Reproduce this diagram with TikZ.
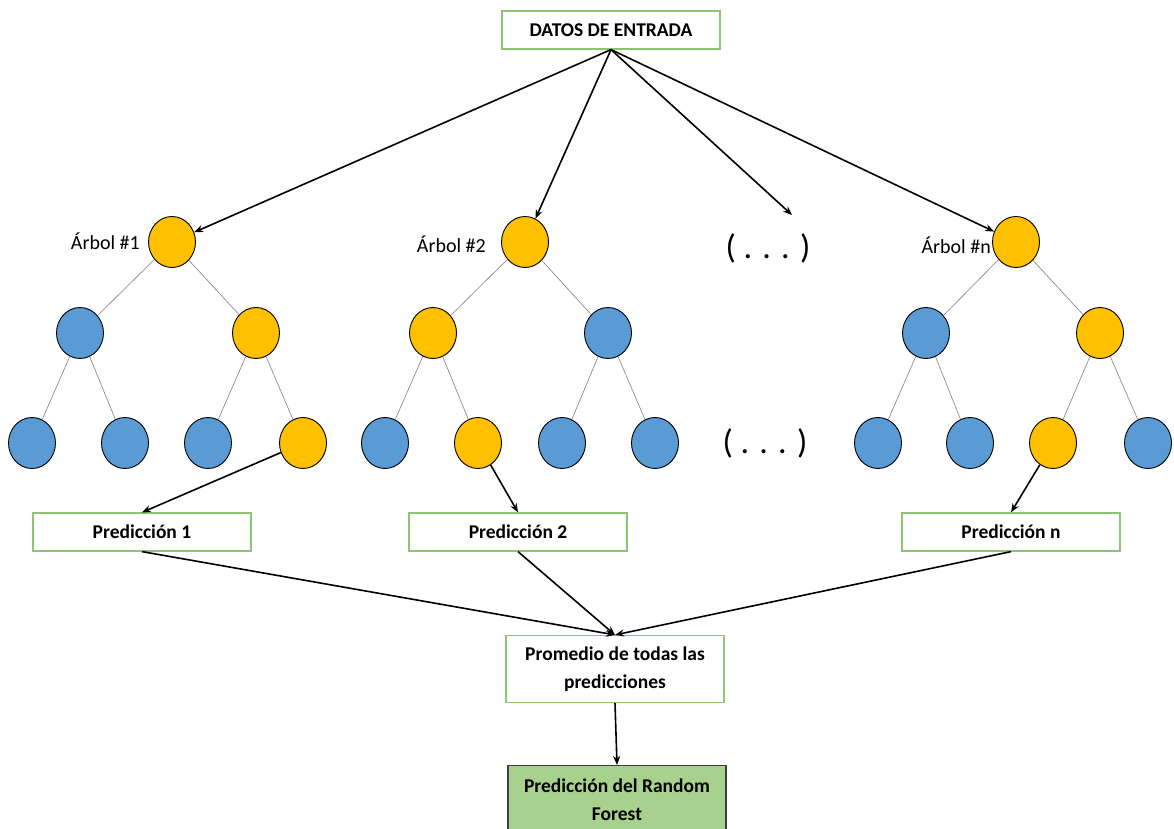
\documentclass[tikz,border=0pt]{standalone}
\usepackage{fontspec}
\setmainfont{Carlito}
\usetikzlibrary{shapes.geometric,arrows.meta}
\definecolor{nyellow}{HTML}{FFC000}
\definecolor{nblue}{HTML}{5B9BD5}
\definecolor{boxgreen}{HTML}{8DC572}
\definecolor{rfgreen}{HTML}{A9D18E}
\tikzset{
  yel/.style={ellipse,draw=black,line width=0.9pt,fill=nyellow,minimum width=47pt,minimum height=51pt,inner sep=0pt},
  blu/.style={ellipse,draw=black,line width=0.9pt,fill=nblue,minimum width=47pt,minimum height=51pt,inner sep=0pt},
  gbox/.style={draw=boxgreen,line width=1.2pt,fill=white,minimum width=218pt,minimum height=38pt,inner sep=0pt,font=\bfseries\fontsize{19.5}{28}\selectfont,align=center},
  tedge/.style={draw=gray,line width=0.6pt},
  arr/.style={draw=black,line width=1.6pt,-{Stealth[length=9pt,width=7pt]}},
  lbl/.style={font=\fontsize{20}{24}\selectfont,anchor=east,inner sep=0pt},
  dots/.style={font=\fontsize{34}{40}\selectfont,inner sep=0pt}
}
\begin{document}
\begin{tikzpicture}[x=1pt,y=-1pt]
\useasboundingbox[fill=white] (0,0) rectangle (1174,829);
% input
\node[gbox] (in) at (611,30) {DATOS DE ENTRADA};
% tree 1
\node[yel] (r1) at (172,242) {};
\node[blu] (a1) at (80,333) {};
\node[yel] (b1) at (256,333) {};
\node[blu] (c1) at (32,443) {};
\node[blu] (d1) at (125,443) {};
\node[blu] (e1) at (208,443) {};
\node[yel] (f1) at (303,443) {};
% tree 2
\node[yel] (r2) at (525,242) {};
\node[yel] (a2) at (433,333) {};
\node[blu] (b2) at (608,333) {};
\node[blu] (c2) at (385,443) {};
\node[yel] (d2) at (478,443) {};
\node[blu] (e2) at (562,443) {};
\node[blu] (f2) at (655,443) {};
% tree n
\node[yel] (r3) at (1016,242) {};
\node[blu] (a3) at (926,333) {};
\node[yel] (b3) at (1100,333) {};
\node[blu] (c3) at (878,443) {};
\node[blu] (d3) at (970,443) {};
\node[yel] (e3) at (1053,443) {};
\node[blu] (f3) at (1148,443) {};
% tree edges
\foreach \t in {1,2,3}{
  \draw[tedge] (r\t) -- (a\t);
  \draw[tedge] (r\t) -- (b\t);
  \draw[tedge] (a\t) -- (c\t);
  \draw[tedge] (a\t) -- (d\t);
  \draw[tedge] (b\t) -- (e\t);
  \draw[tedge] (b\t) -- (f\t);
}
% labels
\node[lbl] (l1) at (140,241) {Árbol \#1};
\node[lbl] (l2) at (486,244) {Árbol \#2};
\node[lbl] (l3) at (991,245) {Árbol \#n};
\node[dots] (dt) at (768,248) {( . . . )};
\node[dots] (db) at (765,443) {( . . . )};
\coordinate (dend) at (792,215);
% predictions
\node[gbox] (p1) at (142,532) {Predicción 1};
\node[gbox] (p2) at (518,532) {Predicción 2};
\node[gbox] (pn) at (1011,532) {Predicción n};
\node[gbox,minimum height=67pt] (avg) at (615,669) {Promedio de todas las\\predicciones};
\node[gbox,draw=black!75,fill=rfgreen,minimum height=68pt,anchor=north] (rf) at (617,765) {Predicción del Random\\Forest};
% arrows
\draw[arr] (in.south) -- (r1);
\draw[arr] (in.south) -- (r2);
\draw[arr] (in.south) -- (dend);
\draw[arr] (in.south) -- (r3);
\draw[arr] (f1) -- (p1.north);
\draw[arr] (d2) -- (p2.north);
\draw[arr] (e3) -- (pn.north);
\draw[arr] (p1.south) -- (avg.north);
\draw[arr] (p2.south) -- (avg.north);
\draw[arr] (pn.south) -- (avg.north);
\draw[arr] (avg.south) -- (rf.north);
\end{tikzpicture}
\end{document}
